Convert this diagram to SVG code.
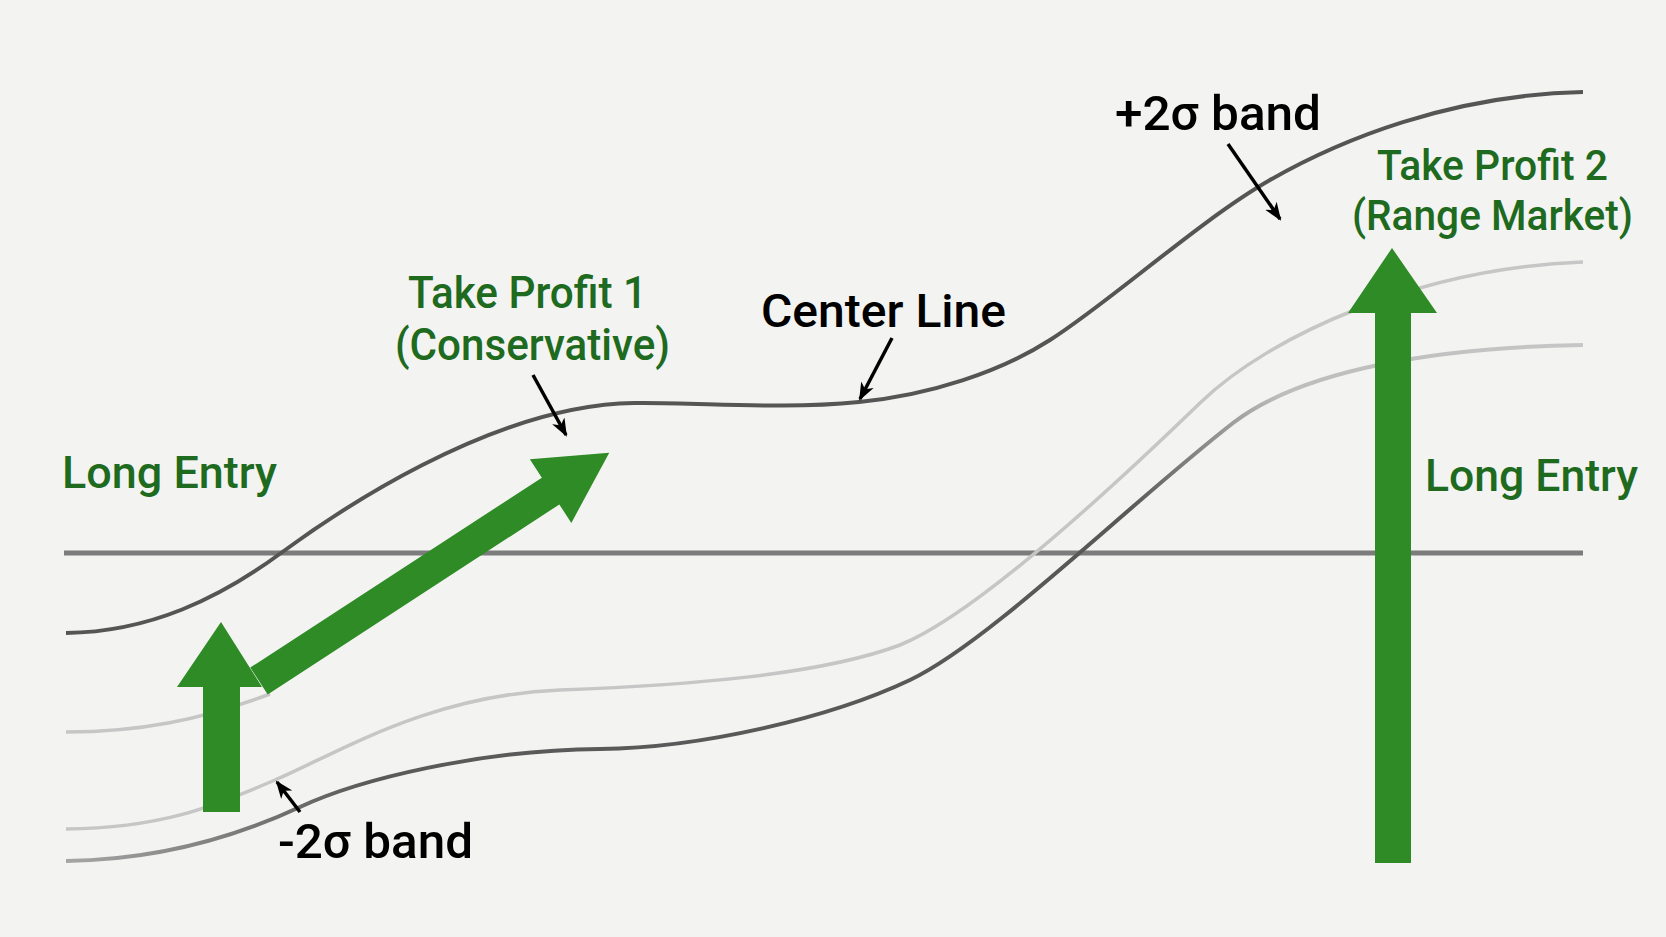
<svg xmlns="http://www.w3.org/2000/svg" width="1666" height="937" viewBox="0 0 1666 937">
<defs>
<style>
.bg{fill:#f3f3f1}
.dark{fill:none;stroke:#555;stroke-width:4;stroke-linecap:butt}
.light{fill:none;stroke:#c6c6c6;stroke-width:3.5}
.hline{fill:none;stroke:#7c7c7c;stroke-width:5}
.garrow{fill:#2e8b25}
.ptr{fill:none;stroke:#000;stroke-width:3.5;marker-end:url(#head)}
.gtxt{font-family:Roboto,"Liberation Sans",sans-serif;font-weight:500;fill:#1e6a1e}
.btxt{font-family:Roboto,"Liberation Sans",sans-serif;font-weight:500;fill:#000}
</style>
<marker id="head" viewBox="0 0 18 16" refX="16" refY="8" markerWidth="18" markerHeight="16" markerUnits="userSpaceOnUse" orient="auto">
<path d="M0,1 L18,8 L0,15 L5,8 Z" fill="#000"/>
</marker>
<linearGradient id="gC" gradientUnits="userSpaceOnUse" x1="66" y1="0" x2="1583" y2="0">
<stop offset="0" stop-color="#a6a6a6"/>
<stop offset="0.2" stop-color="#5a5a5a"/>
<stop offset="0.7" stop-color="#585858"/>
<stop offset="0.8" stop-color="#bdbdbd"/>
<stop offset="1" stop-color="#c6c6c6"/>
</linearGradient>
</defs>
<rect class="bg" x="0" y="0" width="1666" height="937"/>
<g id="connectors">
<path id="hline" class="hline" d="M64,553 L1583,553"/>
<path id="curve-top" class="dark" d="M66,633 C150,632 220,598 281,553 C330,517 490,405 634,403 C700,402 780,410 859,402 C930,395 1000,372 1050,340 C1110,302 1200,220 1270,180 C1340,140 1450,95 1583,92"/>
<path id="curve-a" class="light" d="M66,732 C140,732 200,720 270,694"/>
<path id="curve-b" class="light" d="M66,829 C160,828 210,808 275,780 C340,752 430,695 560,690 C690,685 820,675 900,645 C975,615 1110,490 1200,403 C1270,335 1420,268 1583,262"/>
<path id="curve-c" fill="none" stroke="url(#gC)" stroke-width="4" d="M66,861 C160,860 240,835 300,807 C360,779 480,750 600,749 C700,748 830,718 910,680 C990,642 1130,503 1233,423 C1303,369 1440,347 1583,345"/>
<path class="ptr" d="M1228,144 L1280,219"/>
<path class="ptr" d="M892,338 L860,399"/>
<path class="ptr" d="M533,375 L566,435"/>
<path class="ptr" d="M300,812 L277,782"/>
</g>
<g id="arrow-diagonal">
<polygon class="garrow" transform="translate(259,681) rotate(-33.08)" points="0,-16 348,-16 348,-38 418,0 348,38 348,16 0,16"/>
</g>
<g id="arrow-left-up">
<polygon class="garrow" points="203,812 203,687 177,687 221,622 262,687 240,687 240,812"/>
</g>
<g id="arrow-right-up">
<polygon class="garrow" points="1375,863 1375,313 1348,313 1392,248 1437,313 1411,313 1411,863"/>
</g>
<g id="label-long-entry-left"><text class="gtxt" x="62" y="488" font-size="44" textLength="215" lengthAdjust="spacingAndGlyphs">Long Entry</text></g>
<g id="label-long-entry-right"><text class="gtxt" x="1425" y="491" font-size="44" textLength="213" lengthAdjust="spacingAndGlyphs">Long Entry</text></g>
<g id="label-tp1">
<text class="gtxt" x="408" y="308" font-size="44" textLength="239" lengthAdjust="spacingAndGlyphs">Take Profit 1</text>
<text class="gtxt" x="395" y="360" font-size="44" textLength="275" lengthAdjust="spacingAndGlyphs">(Conservative)</text>
</g>
<g id="label-center"><text class="btxt" x="761" y="327" font-size="47" textLength="245" lengthAdjust="spacingAndGlyphs">Center Line</text></g>
<g id="label-plus2"><text class="btxt" x="1115" y="130" font-size="48" textLength="206" lengthAdjust="spacingAndGlyphs">+2σ band</text></g>
<g id="label-tp2">
<text class="gtxt" x="1377" y="180" font-size="42" textLength="231" lengthAdjust="spacingAndGlyphs">Take Profit 2</text>
<text class="gtxt" x="1352" y="230" font-size="42" textLength="281" lengthAdjust="spacingAndGlyphs">(Range Market)</text>
</g>
<g id="label-minus2"><text class="btxt" x="278" y="858" font-size="48" textLength="195" lengthAdjust="spacingAndGlyphs">-2σ band</text></g>
</svg>
